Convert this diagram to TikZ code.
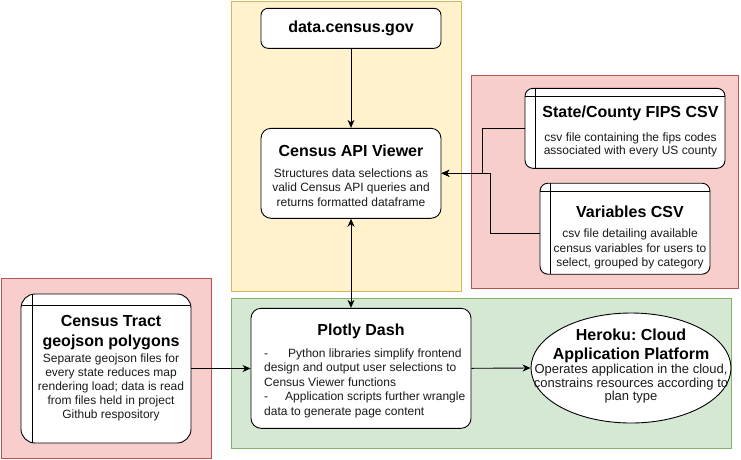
\documentclass[tikz,border=0pt]{standalone}
\usepackage{fontspec}
\setmainfont{Liberation Sans}
\usetikzlibrary{arrows.meta,shapes.geometric}
\definecolor{yfill}{HTML}{FFF2CC}
\definecolor{ystroke}{HTML}{D6B656}
\definecolor{rfill}{HTML}{F8CECC}
\definecolor{rstroke}{HTML}{B85450}
\definecolor{gfill}{HTML}{D5E8D4}
\definecolor{gstroke}{HTML}{82B366}
\definecolor{txt}{HTML}{1A1A1A}
\tikzset{
  container/.style={draw, rectangle, inner sep=0pt, line width=0.9pt},
  box/.style={draw, fill=white, rectangle, rounded corners=#1, inner sep=0pt, line width=0.9pt},
  box/.default=9pt,
  storage/.style 2 args={path picture={
    \draw[line width=0.9pt] ([xshift=#1]path picture bounding box.north west) -- ([xshift=#1]path picture bounding box.south west);
    \draw[line width=0.9pt] ([yshift=-#2]path picture bounding box.north west) -- ([yshift=-#2]path picture bounding box.north east);
  }},
  ttl/.style={inner sep=0pt, align=center, font=\fontsize{16}{19}\selectfont\bfseries},
  bdy/.style={inner sep=0pt, align=center, text=txt, font=\fontsize{12}{14}\selectfont},
  arr/.style={line width=0.9pt, -{Stealth[length=8pt,width=7pt,inset=2.5pt]}},
  biarr/.style={line width=0.9pt, {Stealth[length=8pt,width=7pt,inset=2.5pt]}-{Stealth[length=8pt,width=7pt,inset=2.5pt]}},
}
\begin{document}
\frenchspacing
\begin{tikzpicture}[x=1pt,y=-1pt]
\useasboundingbox (0,0) rectangle (741,459);
% containers
\node[container, fill=yfill, draw=ystroke, minimum width=230pt, minimum height=290pt] (yel) at (346,146) {};
\node[container, fill=rfill, draw=rstroke, minimum width=267pt, minimum height=213pt] (redr) at (604.5,181.5) {};
\node[container, fill=gfill, draw=gstroke, minimum width=500pt, minimum height=150pt] (grn) at (481,373) {};
\node[container, fill=rfill, draw=rstroke, minimum width=210pt, minimum height=180pt] (redl) at (106,368) {};
% boxes
\node[box=7pt, minimum width=180pt, minimum height=40pt] (data) at (351,28.3) {};
\node[box=10pt, minimum width=180pt, minimum height=90pt] (api) at (351,173.3) {};
\node[box=10pt, minimum width=220pt, minimum height=120pt] (plotly) at (361,368.3) {};
\node[box=14pt, storage={11.6pt}{11pt}, minimum width=170pt, minimum height=149pt] (tract) at (106,368.5) {};
\node[box=8pt, storage={10.7pt}{8.4pt}, minimum width=200pt, minimum height=80pt] (fips) at (625,128.3) {};
\node[box=8pt, storage={10.7pt}{8.4pt}, minimum width=170pt, minimum height=91pt] (vars) at (625,228.7) {};
\node[draw, fill=white, ellipse, inner sep=0pt, line width=0.9pt, minimum width=200pt, minimum height=110pt] (heroku) at (631,368) {};
% texts
\node[ttl] (datat) at (351,28.8) {data.census.gov};
\node[ttl] (apit) at (351,151) {Census API Viewer};
\node[bdy, font=\fontsize{12}{14.3}\selectfont] (apib) at (351,187.7) {Structures data selections as\\valid Census API queries and\\returns formatted dataframe};
\node[ttl] (fipst) at (630.5,113.5) {State/County FIPS CSV};
\node[bdy, font=\fontsize{12}{13.4}\selectfont] (fipsb) at (630.5,145) {csv file containing the fips codes\\associated with every US county};
\node[ttl] (varst) at (630,212) {Variables CSV};
\node[bdy, font=\fontsize{12}{14.2}\selectfont] (varsb) at (630,249) {csv file detailing available\\census variables for users to\\select, grouped by category};
\node[ttl, font=\fontsize{16}{20}\selectfont\bfseries] (tractt) at (111,332.7) {Census Tract\\geojson polygons};
\node[bdy] (tractb) at (111,387.3) {Separate geojson files for\\every state reduces map\\rendering load; data is read\\from files held in project\\Github respository};
\node[ttl] (plotlyt) at (361,331) {Plotly Dash};
\node[bdy, align=left, anchor=west, font=\fontsize{12}{14.5}\selectfont] (plotlyb) at (264,383) {\makebox[24pt][l]{-}Python libraries simplify frontend\\design and output user selections to\\Census Viewer functions\\\makebox[21pt][l]{-}Application scripts further wrangle\\data to generate page content};
\node[ttl, font=\fontsize{16}{18.3}\selectfont\bfseries] (herokut) at (631,345.8) {Heroku: Cloud\\Application Platform};
\node[bdy, font=\fontsize{13}{13.7}\selectfont] (herokub) at (631,383.7) {Operates application in the cloud,\\constrains resources according to\\plan type};
% connectors
\draw[arr] (data.south) -- (api.north);
\draw[biarr] (api.south) -- (api.south |- plotly.north);
\draw[arr] (tract.east) -- (tract.east -| plotly.west);
\draw[arr] (plotly.east) -- (heroku.west);
\draw[arr] (fips.west) -- ++(-42,0) |- (api.east);
\draw[arr] ([yshift=-4.6pt]vars.west) -- ++(-49,0) |- (api.east);
\end{tikzpicture}
\end{document}
